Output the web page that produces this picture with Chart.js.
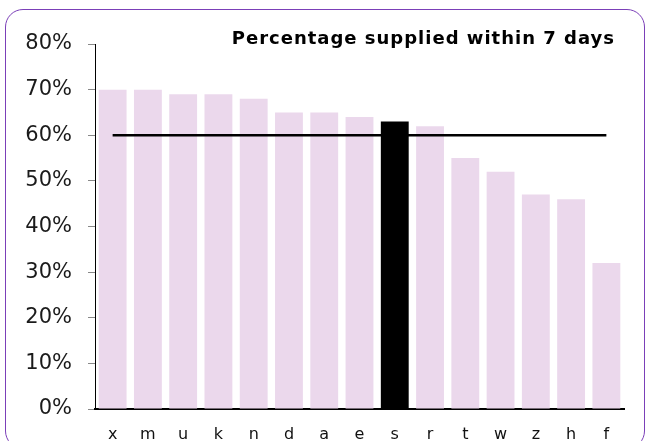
<!DOCTYPE html>
<html lang="en">
  <head>
    <meta charset="UTF-8" />
    <title>Percentage supplied within 7 days</title>
    <script src="https://cdn.jsdelivr.net/npm/chart.js@4.4.0/dist/chart.umd.min.js"></script>
    <style>
      html, body { margin: 0; padding: 0; background: #fff; }
      .frame {
        position: absolute;
        left: 5px;
        top: 9px;
        width: 640px;
        height: 440px;
        border: 1.5px solid #7b3fb8;
        border-radius: 18px;
        box-sizing: border-box;
      }
      canvas { position: absolute; left: 0; top: 0; }
    </style>
  </head>
  <body>
    <div class="frame"></div>
    <canvas id="chart" width="647" height="441"></canvas>
    <script>
      // chart data
      const categories = ["x", "m", "u", "k", "n", "d", "a", "e", "s", "r", "t", "w", "z", "h", "f"];
      const pctWithin7Days = [70, 70, 69, 69, 68, 65, 65, 64, 63, 62, 55, 52, 47, 46, 32];
      const targetPct = [60, 60, 60, 60, 60, 60, 60, 60, 60, 60, 60, 60, 60, 60, 60];
      const highlighted = "s";
      const yMin = 0;
      const yMax = 80;
      const yStep = 10;
      const chartTitle = "Percentage supplied within 7 days";

      const pink = "#ebd8ec";
      const font = "'DejaVu Sans', Verdana, sans-serif";

      // title sits inside the plot, top right
      const insideTitle = {
        id: "insideTitle",
        afterDraw(chart) {
          const ctx = chart.ctx;
          ctx.save();
          ctx.font = "bold 18px " + font;
          ctx.letterSpacing = "1px";
          ctx.fillStyle = "#000";
          ctx.textAlign = "right";
          ctx.textBaseline = "alphabetic";
          ctx.fillText(chartTitle, chart.chartArea.right - 9, 44);
          ctx.restore();
        }
      };

      new Chart(document.getElementById("chart"), {
        data: {
          labels: categories,
          datasets: [
            {
              type: "line",
              data: targetPct,
              borderColor: "#000",
              borderWidth: 2.5,
              pointRadius: 0,
              fill: false,
              order: 0
            },
            {
              type: "bar",
              data: pctWithin7Days,
              backgroundColor: (c) => categories[c.dataIndex] === highlighted ? "#000" : pink,
              borderWidth: 0,
              barPercentage: 0.79,
              categoryPercentage: 1,
              order: 1
            }
          ]
        },
        plugins: [insideTitle],
        options: {
          responsive: false,
          animation: false,
          layout: { padding: { left: 0, top: 44, right: 23, bottom: 0 } },
          plugins: {
            legend: { display: false },
            tooltip: { enabled: false },
            title: { display: false }
          },
          scales: {
            x: {
              grid: { display: false, drawTicks: false },
              border: { display: true, color: "#000", width: 2 },
              ticks: { color: "#111", font: { family: font, size: 16 }, padding: 16 },
              afterFit: (s) => { s.height = 32; }
            },
            y: {
              min: yMin,
              max: yMax,
              grid: { drawOnChartArea: false, drawTicks: true, tickLength: 7, color: "#888" },
              border: { display: true, color: "#000", width: 1 },
              ticks: {
                stepSize: yStep,
                color: "#1a1a1a",
                padding: 16,
                font: { family: font, size: 21 },
                callback: (v) => v + "%"
              },
              afterFit: (s) => { s.width = 95; }
            }
          }
        }
      });
    </script>
  </body>
</html>
